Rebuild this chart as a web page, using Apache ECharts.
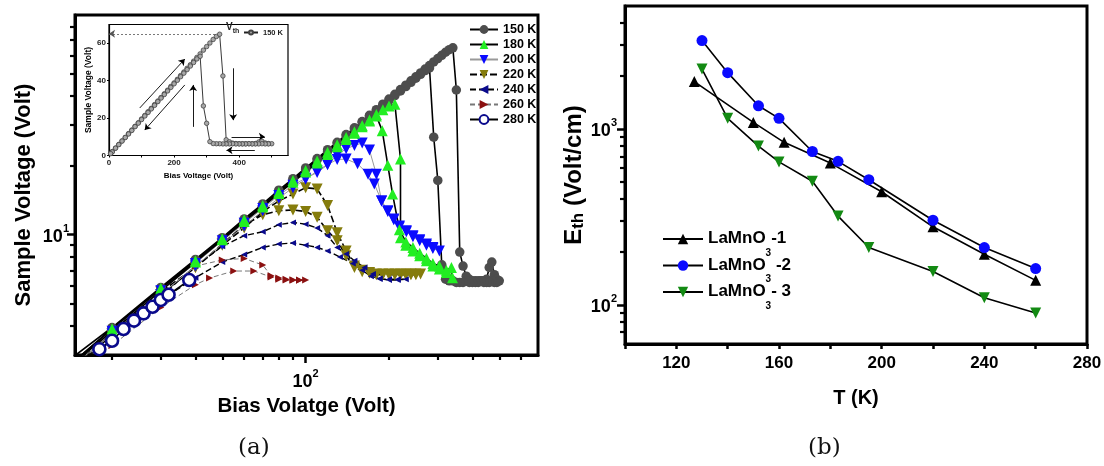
<!DOCTYPE html>
<html><head><meta charset="utf-8">
<script src="https://cdn.jsdelivr.net/npm/echarts@6/dist/echarts.min.js"></script>
<style>html,body{margin:0;padding:0;background:#fff}#c{width:1104px;height:466px}</style>
</head><body><div id="c"></div>
<script>
// ---------- panel (a): Sample voltage vs bias voltage (forward + reverse sweeps) ----------
const temps = ['150 K','180 K','200 K','220 K','240 K','260 K','280 K'];

const bias150 = [5,10,20,30,40,50,60,70,80,90,100,110,120,130,140,150,160,170,180,190,200,210,220,230,240,250,260,270,280,290,300,310,320,330,340,
  350,360,370,380,390,400,410,420,430,440,450,460,470,480,490,500,
  490,480,470,460,450,440,430,420,410,400,390,380,370,360,350,340,330,320,310,300,
  290,280,270,260,250,240,230,220,210,200,190,180,170,160,150,140,130,120,110,100,90,80,70,60,50,40,30,20,10,5];
const volt150 = [1.2,2.1,3.95,5.9,7.8,9.7,11.7,13.6,15.6,17.5,19.5,21.4,23.4,25.2,27.2,29.1,31.0,33.0,34.9,36.9,38.8,40.7,42.7,44.6,46.6,48.5,50.4,52.4,54.3,56.3,58.2,60.1,62.0,63.6,64.8,
  42.5,8.4,7.3,6.6,6.4,6.3,6.3,6.3,6.3,6.3,6.4,7.2,7.6,6.7,6.4,6.3,
  6.2,6.2,6.3,6.2,6.2,6.2,6.3,6.2,6.2,6.2,6.2,6.3,6.2,6.2,6.2,6.3,6.3,6.4,7.4,17.2,
  26.5,53.0,51.6,49.7,47.8,45.9,44.0,42.1,40.2,38.3,36.4,34.5,32.6,30.7,28.8,26.8,24.9,23.0,21.1,19.2,17.3,15.4,13.4,11.5,9.6,7.7,5.8,3.9,1.9,1.0];

const bias180 = [15,20,30,40,50,60,70,80,90,100,110,120,130,140,150,160,170,180,190,200,210,220,220,230,244,258,273,288,304,322,339,
  336,322,304,288,273,258,244,230,218,206,198,189,180,170,160,150,140,130,120,110,100,90,80,70,60,50,40,30,20,15];
const volt180 = [2.9,3.9,5.85,7.7,9.6,11.6,13.4,15.3,17.2,19.0,20.9,22.8,24.6,26.4,28.0,29.8,31.5,33.3,34.9,36.2,36.9,21.3,9.7,9.0,8.5,8.1,7.7,7.3,7.1,6.85,6.5,
  7.2,7.0,7.3,7.5,7.9,8.3,8.8,9.3,10.5,15.0,20.0,28.3,32.8,31.2,29.4,27.6,25.9,24.1,22.3,20.5,18.7,16.9,15.1,13.2,11.4,9.5,7.6,5.7,3.8,2.85];

const bias200 = [15,20,30,40,50,60,70,80,90,100,110,120,130,140,150,160,170,180,188,198,208,218,231,244,258,273,288,304,
  288,273,258,244,231,218,208,198,188,177,168,154,140,130,120,110,100,90,80,70,60,50,40,30,20,15];
const volt200 = [2.85,3.8,5.7,7.5,9.4,11.2,13.0,14.8,16.4,17.6,18.6,20.1,22.2,23.6,24.4,25.0,23.3,18.3,14.0,12.7,11.7,10.9,10.4,9.9,9.5,9.1,8.8,8.5,
  8.7,9.0,9.4,9.8,10.3,10.8,11.6,12.6,14.0,16.6,18.3,20.3,21.3,21.2,20.2,18.9,17.4,16.0,14.4,12.7,10.9,9.1,7.3,5.5,3.7,2.8];

const bias220 = [15,20,30,40,50,60,70,80,90,100,110,120,130,140,150,160,170,180,190,200,210,220,230,240,250,260,
  250,240,230,220,210,200,190,180,170,160,150,140,130,120,110,100,90,80,70,60,50,40,30,20,15];
const volt220 = [2.8,3.7,5.65,7.2,9.0,10.7,12.6,14.0,15.0,16.0,15.8,13.4,10.2,8.5,7.3,6.9,6.8,6.75,6.75,6.75,6.75,6.75,6.75,6.75,6.75,6.75,
  6.7,6.7,6.7,6.7,6.7,6.7,6.7,6.7,6.85,7.0,7.2,8.1,9.4,10.4,11.9,12.6,12.8,12.7,12.2,11.0,9.1,7.2,5.5,3.65,2.75];

const bias240 = [15,20,30,40,50,60,70,80,90,100,110,120,130,140,150,163,175,185,200,215,230,
  215,200,185,172,160,148,133,120,110,100,90,80,70,60,50,40,30,20,15];
const volt240 = [2.7,3.6,5.4,7.3,8.9,9.9,10.3,11.05,11.3,11.1,10.7,9.9,8.8,8.25,7.7,7.2,6.75,6.42,6.4,6.4,6.4,
  6.35,6.35,6.45,6.6,7.0,7.5,8.0,8.5,8.8,9.0,9.2,9.1,8.8,8.2,7.6,6.5,5.2,3.5,2.65];

const bias260 = [15,20,30,40,50,60,70,75,80,85,90,95,100, 95,90,85,80,75,65,55,45,40,30,20,15];
const volt260 = [2.75,3.7,5.5,7.3,7.76,7.88,7.38,6.63,6.48,6.4,6.37,6.36,6.36, 6.33,6.33,6.35,6.4,6.55,6.95,6.95,6.48,6.06,4.83,3.3,2.55];

const bias280 = [18,20,22,24,26,28,30,32,38];
const volt280 = [3.18,3.46,3.89,4.23,4.55,4.86,5.2,5.48,6.35];

const xMajorA = [100];
const xMinorA = [20,30,40,50,60,70,80,90,200,300,400,500,600];
const yMajorA = [10];
const yMinorA = [4,5,6,7,8,9,20,30,40,50,60,70,80];

// inset (linear axes), 150 K hysteresis loop is the same bias150/volt150 data
const insetXLabels = [0,200,400];
const insetXTicks = [0,100,200,300,400,500];
const insetYLabels = [0,20,40,60];
const insetArrows = [
  [[94.5,25.4],[232.9,51.5]],
  [[232.9,37.7],[109.8,13.6]],
  [[258.5,15.3],[258.5,37.7]],
  [[381.5,46.6],[381.5,18.9]],
  [[376.6,10.0],[479,10.0]],
  [[448,2.8],[361,2.8]]
];
const vthLine = [[338,65],[0,65]];

// ---------- panel (b): threshold field vs temperature ----------
const samples = ['LaMnO3-1','LaMnO3 -2','LaMnO3- 3'];
const temp1 = [127,150,162,180,200,220,240,260];
const eth1  = [1860,1090,840,640,440,278,194,138];
const temp2 = [130,140,152,160,173,183,195,220,240,260];
const eth2  = [3180,2090,1355,1150,745,655,515,303,212,161];
const temp3 = [130,140,152,160,173,183,195,220,240,260];
const eth3  = [2190,1150,800,650,505,320,212,155,110,90];
const yMajorB = [100,1000];
const yMinorB = [70,80,90,200,300,400,500,600,700,800,900,2000,3000,4000];

// ---------------------------------------------------------------
const FONT = '"Liberation Sans", Arial, Helvetica, sans-serif';
const pairs = (a, b) => a.map((x, i) => [x, b[i]]);
const supRich = fs => ({
  b: {fontSize: fs, fontWeight: 'bold', fontFamily: FONT, color: '#000', lineHeight: fs + 5, verticalAlign: 'bottom'},
  s: {fontSize: Math.round(fs * 0.6), fontWeight: 'bold', fontFamily: FONT, color: '#000', verticalAlign: 'top'}
});
const supFmt = v => '{b|10}{s|' + Math.round(Math.log10(v)) + '}';
const nameStyle = fs => ({fontSize: fs, fontWeight: 'bold', fontFamily: FONT, color: '#000'});
const blk = w => ({color: '#000', width: w});

function logAxisPair(grid, pos, min, max, major, minor, extra) {
  const main = Object.assign({
    gridIndex: grid, position: pos, type: 'log', logBase: 10, min, max,
    axisLine: {show: true, lineStyle: blk(3)},
    axisTick: {show: true, customValues: major, length: 8, lineStyle: blk(2.5)},
    axisLabel: {show: true, customValues: major, formatter: supFmt, rich: supRich(18), margin: 7},
    splitLine: {show: false}, minorTick: {show: false}
  }, extra);
  const mnr = {
    gridIndex: grid, position: pos, offset: 0, type: 'log', logBase: 10, min, max,
    axisLine: {show: false},
    axisTick: {show: true, customValues: minor, length: 5, lineStyle: blk(2.2)},
    axisLabel: {show: false}, splitLine: {show: false}
  };
  return [main, mnr];
}

const [xA, xAm] = logAxisPair(0, 'bottom', 14.7, 690, xMajorA, xMinorA, {
  name: 'Bias Volatge (Volt)', nameLocation: 'middle', nameGap: 37, nameTextStyle: nameStyle(20.5)
});
xA.axisLabel.margin = 13;
const [yA, yAm] = logAxisPair(0, 'left', 3, 90, yMajorA, yMinorA, {
  name: 'Sample Voltage (Volt)', nameLocation: 'middle', nameGap: 40,
  nameTextStyle: Object.assign(nameStyle(22), {padding: [0, 20, 0, 0]})
});
yA.axisLabel.margin = 6;

const xB = {
  gridIndex: 2, position: 'bottom', type: 'value', min: 100, max: 280, interval: 20,
  axisLine: {show: true, lineStyle: blk(3)},
  axisTick: {show: true, length: 5, lineStyle: blk(2.5)},
  axisLabel: {show: true, margin: 11, fontSize: 17, fontWeight: 'bold', fontFamily: FONT, color: '#000',
    formatter: v => (v % 40 === 0 ? String(v) : '')},
  splitLine: {show: false},
  name: 'T (K)', nameLocation: 'middle', nameGap: 44, nameTextStyle: nameStyle(20)
};
const [yB, yBm] = logAxisPair(2, 'left', 60, 5000, yMajorB, yMinorB, {
  name: '{b|E}{s|th}{b| (Volt/cm)}', nameLocation: 'middle', nameGap: 38,
  nameTextStyle: {rich: {
    b: {fontSize: 24, fontWeight: 'bold', fontFamily: FONT, color: '#000', lineHeight: 25, verticalAlign: 'top'},
    s: {fontSize: 17, fontWeight: 'bold', fontFamily: FONT, color: '#000', lineHeight: 17, verticalAlign: 'bottom', padding: [13, 0, 0, 0]}
  }}
});
yB.axisLabel.margin = 8;

const insetLabel = {show: true, fontSize: 8, fontWeight: 'bold', fontFamily: FONT, color: '#222', margin: 3};
const xI = {
  gridIndex: 1, position: 'bottom', type: 'value', min: 0, max: 550,
  axisLine: {show: true, lineStyle: blk(1.2)},
  axisTick: {show: true, customValues: insetXTicks, length: 2, lineStyle: blk(1)},
  axisLabel: Object.assign({customValues: insetXLabels}, insetLabel),
  splitLine: {show: false},
  name: 'Bias Voltage (Volt)', nameLocation: 'middle', nameGap: 16, nameTextStyle: nameStyle(8)
};
const yI = {
  gridIndex: 1, position: 'left', type: 'value', min: 0, max: 70,
  axisLine: {show: true, lineStyle: blk(1.2)},
  axisTick: {show: true, customValues: insetYLabels, length: 2, lineStyle: blk(1)},
  axisLabel: Object.assign({customValues: insetYLabels}, insetLabel),
  splitLine: {show: false},
  name: 'Sample Voltage (Volt)', nameLocation: 'middle', nameGap: 12, nameTextStyle: nameStyle(8.5)
};

function mainSeries(name, b, v, sym, size, color, line, extra) {
  return Object.assign({
    type: 'line', name, xAxisIndex: 0, yAxisIndex: 0, data: pairs(b, v),
    symbol: sym, symbolSize: size, showAllSymbol: true,
    itemStyle: {color, borderColor: color, borderWidth: 0},
    lineStyle: line, clip: true, animation: false
  }, extra || {});
}

const series = [
  mainSeries('150 K', bias150, volt150, 'circle', 9.5, '#4d4d4d', {color: '#000', width: 1.6}),
  mainSeries('220 K', bias220, volt220, 'triangle', 11, '#857c0c', {color: '#000', width: 1.6, type: [7, 3]}, {symbolRotate: 180}),
  mainSeries('240 K', bias240, volt240, 'triangle', 6, '#0a0a8c', {color: '#000', width: 1.4, type: [6, 3]}, {symbolRotate: 90}),
  mainSeries('260 K', bias260, volt260, 'triangle', 7, '#8b1010', {color: '#777', width: 1, type: [5, 3]}, {symbolRotate: -90}),
  mainSeries('200 K', bias200, volt200, 'triangle', 11, '#0a0aff', {color: '#999', width: 1}, {symbolRotate: 180}),
  mainSeries('180 K', bias180, volt180, 'triangle', 11, '#22ee22', {color: '#000', width: 1.6}),
  mainSeries('280 K', bias280, volt280, 'circle', 12, '#ffffff', {color: '#000', width: 1.6},
    {itemStyle: {color: '#fff', borderColor: '#0a0a8c', borderWidth: 2.6}}),
  {
    type: 'line', name: '150 K ', xAxisIndex: 2, yAxisIndex: 2, data: pairs(bias150, volt150),
    symbol: 'circle', symbolSize: 4.5, showAllSymbol: true,
    itemStyle: {color: '#a8a8a8', borderColor: '#444', borderWidth: 0.8},
    lineStyle: {color: '#222', width: 0.9}, animation: false, z: 5,
    markLine: {
      silent: true, animation: false, symbol: ['none', 'arrow'], symbolSize: 6,
      label: {show: false}, lineStyle: {color: '#000', width: 0.9, type: 'solid'},
      data: insetArrows.map(p => [{coord: p[0]}, {coord: p[1]}]).concat([
        [{coord: vthLine[0], symbol: 'none', lineStyle: {type: [2, 2], color: '#555', width: 0.8}},
         {coord: vthLine[1], symbol: 'arrow'}]
      ])
    }
  },
  {type: 'line', name: samples[0], xAxisIndex: 3, yAxisIndex: 3, data: pairs(temp1, eth1),
    symbol: 'triangle', symbolSize: 11, itemStyle: {color: '#000'}, lineStyle: {color: '#000', width: 1.6}, animation: false},
  {type: 'line', name: samples[1], xAxisIndex: 3, yAxisIndex: 3, data: pairs(temp2, eth2),
    symbol: 'circle', symbolSize: 11, itemStyle: {color: '#0a0aff'}, lineStyle: {color: '#000', width: 1.6}, animation: false},
  {type: 'line', name: samples[2], xAxisIndex: 3, yAxisIndex: 3, data: pairs(temp3, eth3),
    symbol: 'triangle', symbolSize: 11, symbolRotate: 180, itemStyle: {color: '#138a13'}, lineStyle: {color: '#000', width: 1.6}, animation: false}
];

const legendText = {fontSize: 12.5, fontWeight: 'bold', fontFamily: FONT, color: '#000', lineHeight: 12};
const sampleRich = {
  b: {fontSize: 17, fontWeight: 'bold', fontFamily: FONT, color: '#000', lineHeight: 18, verticalAlign: 'top'},
  s: {fontSize: 10, fontWeight: 'bold', fontFamily: FONT, color: '#000', lineHeight: 10, verticalAlign: 'top', padding: [18, 0, 0, 0]}
};
const sampleFmt = n => '{b|LaMnO}{s|3}{b|' + n.slice(6) + '}';
const sampleTops = [230, 256.5, 283];

const option = {
  animation: false,
  backgroundColor: '#fff',
  textStyle: {fontFamily: FONT},
  grid: [
    {left: 75, top: 15, width: 463, height: 340, show: true, borderColor: '#000', borderWidth: 3, backgroundColor: 'transparent', containLabel: false, outerBoundsMode: 'none'},
    {left: 109, top: 24.5, width: 179, height: 131, show: true, borderColor: '#000', borderWidth: 1.2, backgroundColor: '#fff', containLabel: false, outerBoundsMode: 'none'},
    {left: 625, top: 6, width: 462, height: 338, show: true, borderColor: '#000', borderWidth: 3, backgroundColor: 'transparent', containLabel: false, outerBoundsMode: 'none'}
  ],
  xAxis: [xA, xAm, xI, xB],
  yAxis: [yA, yAm, yI, yB, yBm],
  legend: [
    {data: temps, orient: 'vertical', left: 469, top: 23, itemWidth: 28, itemHeight: 11, itemGap: 2, padding: 0,
      selectedMode: false, textStyle: legendText},
    {data: ['150 K '], left: 243, top: 28.5, itemWidth: 14, itemHeight: 5, itemGap: 2, padding: 0, selectedMode: false,
      formatter: n => n.trim(), textStyle: {fontSize: 7.5, fontWeight: 'bold', fontFamily: FONT, color: '#222'}}
  ].concat(samples.map((s, i) => ({
    data: [s], orient: 'vertical', left: 662, top: sampleTops[i], itemWidth: 40, itemHeight: 13, padding: 0,
    selectedMode: false, formatter: sampleFmt, textStyle: {rich: sampleRich}
  }))),
  graphic: [
    {type: 'text', left: 226, top: 22, silent: true,
      style: {text: '{b|V}{s|th}', rich: {
        b: {fontSize: 10, fontWeight: 'bold', fontFamily: FONT, fill: '#222', lineHeight: 11, verticalAlign: 'top'},
        s: {fontSize: 7, fontWeight: 'bold', fontFamily: FONT, fill: '#222', lineHeight: 7, verticalAlign: 'top', padding: [6, 0, 0, 0]}}}},
    {type: 'text', left: 238, top: 437, silent: true,
      style: {text: '(a)', fontSize: 23, fontFamily: '"DejaVu Serif", "Liberation Serif", serif', fill: '#111'}},
    {type: 'text', left: 808, top: 437, silent: true,
      style: {text: '(b)', fontSize: 23, fontFamily: '"DejaVu Serif", "Liberation Serif", serif', fill: '#111'}}
  ],
  series
};

const chart = echarts.init(document.getElementById('c'), null, {renderer: 'canvas'});
chart.setOption(option);
</script></body></html>
